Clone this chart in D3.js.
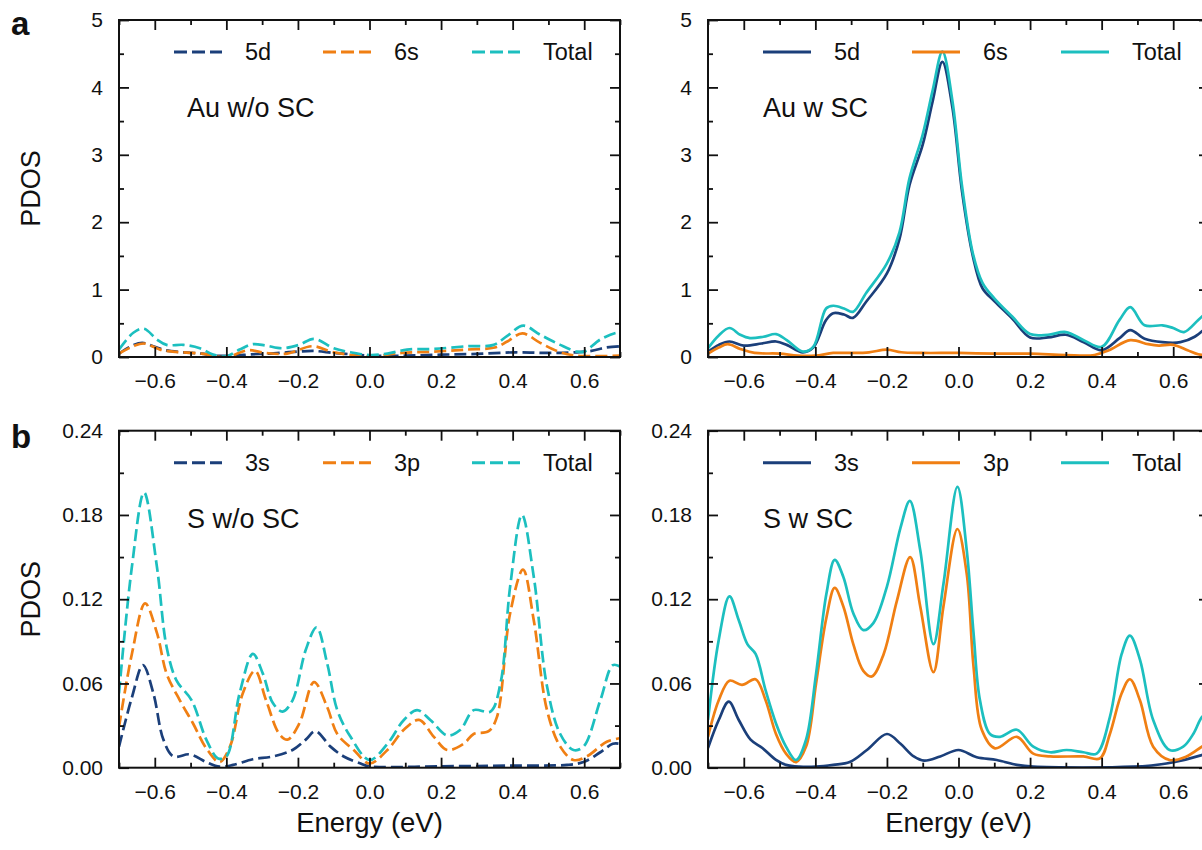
<!DOCTYPE html>
<html><head><meta charset="utf-8">
<script src="https://cdn.jsdelivr.net/npm/d3@7"></script>
<style>body{margin:0;background:#fff} text{font-family:"Liberation Sans",Arial,Helvetica,sans-serif;fill:#111}</style>
</head><body><svg id="c" width="1202" height="850"></svg>
<script>
// ---------- data ----------
const energyTicks = [-0.6,-0.4,-0.2,0,0.2,0.4,0.6];
const energyMinor = [-0.7,-0.5,-0.3,-0.1,0.1,0.3,0.5,0.7];
const auTicks = [0,1,2,3,4,5];
const auMinor = [0.5,1.5,2.5,3.5,4.5];
const sTicks = [0,0.06,0.12,0.18,0.24];
const sMinor = [0.03,0.09,0.15,0.21];
const auOrbitals = ["5d","6s","Total"];
const sOrbitals = ["3s","3p","Total"];
const panelTitles = ["Au w/o SC","Au w SC","S w/o SC","S w SC"];
const panelLetters = ["a","b"];

// Au w/o SC
const auWo5d = [[-0.7,0.05],[-0.67,0.15],[-0.635,0.21],[-0.6,0.15],[-0.57,0.1],[-0.52,0.07],[-0.47,0.05],[-0.43,0.02],[-0.38,0.02],[-0.33,0.04],[-0.28,0.05],[-0.2,0.08],[-0.155,0.09],[-0.1,0.06],[-0.05,0.04],[0,0.02],[0.1,0.02],[0.2,0.035],[0.3,0.045],[0.41,0.07],[0.5,0.06],[0.58,0.07],[0.62,0.09],[0.66,0.14],[0.7,0.16]];
const auWo6s = [[-0.7,0.05],[-0.66,0.16],[-0.63,0.2],[-0.585,0.11],[-0.55,0.08],[-0.47,0.05],[-0.4,0.0],[-0.34,0.1],[-0.29,0.06],[-0.23,0.05],[-0.16,0.16],[-0.1,0.07],[0,0.01],[0.09,0.06],[0.18,0.08],[0.27,0.11],[0.35,0.14],[0.385,0.23],[0.427,0.35],[0.477,0.21],[0.533,0.07],[0.58,0.02],[0.7,0.02]];
const auWoTotal = [[-0.7,0.11],[-0.66,0.36],[-0.63,0.42],[-0.594,0.26],[-0.567,0.18],[-0.52,0.18],[-0.474,0.13],[-0.437,0.035],[-0.4,0.01],[-0.363,0.11],[-0.326,0.19],[-0.29,0.17],[-0.243,0.13],[-0.197,0.18],[-0.155,0.27],[-0.1,0.13],[-0.053,0.07],[0,0.03],[0.05,0.05],[0.105,0.11],[0.18,0.12],[0.273,0.16],[0.347,0.18],[0.384,0.31],[0.43,0.465],[0.477,0.33],[0.533,0.18],[0.58,0.08],[0.6,0.08],[0.645,0.26],[0.69,0.36],[0.7,0.36]];
// Au w SC
const auW5d = [[-0.7,0.08],[-0.67,0.18],[-0.64,0.23],[-0.6,0.17],[-0.55,0.2],[-0.51,0.23],[-0.48,0.18],[-0.435,0.07],[-0.406,0.14],[-0.37,0.55],[-0.35,0.65],[-0.32,0.63],[-0.295,0.58],[-0.258,0.82],[-0.2,1.24],[-0.165,1.75],[-0.137,2.55],[-0.1,3.15],[-0.072,3.8],[-0.045,4.38],[-0.017,3.7],[0.01,2.45],[0.04,1.5],[0.067,1.02],[0.1,0.83],[0.15,0.57],[0.2,0.29],[0.25,0.29],[0.3,0.33],[0.35,0.22],[0.4,0.1],[0.45,0.28],[0.48,0.4],[0.52,0.27],[0.57,0.22],[0.62,0.22],[0.66,0.3],[0.7,0.48]];
const auW6s = [[-0.7,0.05],[-0.67,0.14],[-0.645,0.19],[-0.61,0.12],[-0.57,0.06],[-0.5,0.05],[-0.45,0.02],[-0.4,0.02],[-0.35,0.06],[-0.3,0.06],[-0.25,0.07],[-0.2,0.11],[-0.16,0.07],[-0.1,0.06],[0,0.06],[0.1,0.05],[0.2,0.05],[0.3,0.03],[0.38,0.03],[0.42,0.1],[0.48,0.25],[0.53,0.19],[0.56,0.17],[0.6,0.18],[0.64,0.1],[0.67,0.04],[0.7,0.02]];
const auWTotal = [[-0.7,0.13],[-0.67,0.32],[-0.64,0.43],[-0.61,0.33],[-0.583,0.28],[-0.545,0.3],[-0.51,0.34],[-0.48,0.25],[-0.435,0.08],[-0.406,0.15],[-0.37,0.72],[-0.35,0.76],[-0.32,0.72],[-0.295,0.67],[-0.258,0.95],[-0.2,1.39],[-0.165,1.85],[-0.137,2.65],[-0.1,3.3],[-0.072,3.96],[-0.045,4.53],[-0.017,3.8],[0.01,2.53],[0.04,1.54],[0.067,1.1],[0.1,0.87],[0.15,0.6],[0.2,0.34],[0.25,0.33],[0.3,0.37],[0.35,0.25],[0.4,0.15],[0.45,0.55],[0.48,0.74],[0.52,0.47],[0.57,0.47],[0.6,0.43],[0.63,0.37],[0.67,0.55],[0.7,0.7]];
// S w/o SC
const sWo3s = [[-0.7,0.015],[-0.664,0.05],[-0.633,0.073],[-0.604,0.053],[-0.576,0.02],[-0.548,0.008],[-0.502,0.0095],[-0.456,0.004],[-0.419,0.0007],[-0.381,0.002],[-0.326,0.006],[-0.27,0.008],[-0.215,0.0126],[-0.178,0.02],[-0.151,0.026],[-0.109,0.015],[-0.072,0.008],[-0.025,0.003],[0,0.001],[0.2,0.001],[0.4,0.0015],[0.552,0.002],[0.598,0.004],[0.645,0.011],[0.68,0.017],[0.7,0.017]];
const sWo3p = [[-0.7,0.029],[-0.664,0.081],[-0.627,0.117],[-0.594,0.096],[-0.567,0.067],[-0.53,0.048],[-0.493,0.0315],[-0.456,0.0138],[-0.419,0.004],[-0.39,0.015],[-0.354,0.053],[-0.32,0.069],[-0.289,0.048],[-0.252,0.024],[-0.229,0.02],[-0.196,0.0315],[-0.155,0.061],[-0.118,0.043],[-0.09,0.024],[-0.044,0.0126],[0,0.003],[0.05,0.0126],[0.096,0.027],[0.138,0.034],[0.18,0.022],[0.217,0.0126],[0.263,0.017],[0.291,0.024],[0.333,0.026],[0.356,0.036],[0.393,0.11],[0.429,0.141],[0.459,0.105],[0.496,0.041],[0.533,0.015],[0.57,0.0055],[0.607,0.008],[0.663,0.0185],[0.7,0.021]];
const sWoTotal = [[-0.7,0.053],[-0.664,0.143],[-0.63,0.196],[-0.594,0.143],[-0.567,0.086],[-0.539,0.062],[-0.497,0.048],[-0.456,0.02],[-0.423,0.0066],[-0.4,0.008],[-0.363,0.053],[-0.326,0.081],[-0.298,0.067],[-0.27,0.046],[-0.243,0.04],[-0.215,0.048],[-0.178,0.084],[-0.148,0.1],[-0.118,0.074],[-0.09,0.041],[-0.053,0.022],[0,0.0055],[0.05,0.017],[0.096,0.034],[0.133,0.041],[0.17,0.034],[0.217,0.023],[0.254,0.027],[0.291,0.041],[0.338,0.04],[0.366,0.06],[0.393,0.129],[0.426,0.18],[0.459,0.136],[0.496,0.058],[0.533,0.024],[0.57,0.0126],[0.598,0.015],[0.645,0.048],[0.68,0.073],[0.7,0.072]];
// S w SC
const sW3s = [[-0.7,0.014],[-0.67,0.034],[-0.642,0.047],[-0.614,0.034],[-0.581,0.02],[-0.548,0.014],[-0.51,0.0055],[-0.482,0.002],[-0.445,0.0007],[-0.398,0.0007],[-0.35,0.002],[-0.304,0.004],[-0.256,0.0126],[-0.2,0.024],[-0.162,0.017],[-0.125,0.008],[-0.096,0.005],[-0.051,0.008],[0,0.0126],[0.051,0.0074],[0.107,0.0055],[0.163,0.002],[0.209,0.0007],[0.488,0.0007],[0.581,0.003],[0.68,0.009],[0.7,0.011]];
const sW3p = [[-0.7,0.022],[-0.67,0.048],[-0.64,0.062],[-0.605,0.059],[-0.567,0.063],[-0.539,0.048],[-0.51,0.024],[-0.482,0.01],[-0.454,0.004],[-0.426,0.015],[-0.398,0.06],[-0.369,0.107],[-0.346,0.128],[-0.322,0.115],[-0.294,0.088],[-0.266,0.069],[-0.242,0.065],[-0.209,0.081],[-0.172,0.119],[-0.135,0.15],[-0.107,0.115],[-0.07,0.068],[-0.042,0.115],[-0.003,0.17],[0.023,0.138],[0.042,0.072],[0.065,0.027],[0.102,0.0138],[0.163,0.022],[0.209,0.01],[0.256,0.008],[0.349,0.008],[0.395,0.0066],[0.423,0.024],[0.456,0.053],[0.479,0.063],[0.507,0.048],[0.544,0.015],[0.59,0.0055],[0.637,0.008],[0.68,0.015],[0.7,0.018]];
const sWTotal = [[-0.7,0.034],[-0.67,0.091],[-0.64,0.122],[-0.614,0.105],[-0.59,0.088],[-0.567,0.081],[-0.539,0.055],[-0.51,0.0315],[-0.482,0.015],[-0.454,0.0055],[-0.426,0.02],[-0.398,0.067],[-0.369,0.124],[-0.346,0.148],[-0.322,0.136],[-0.294,0.11],[-0.266,0.098],[-0.238,0.103],[-0.2,0.129],[-0.162,0.171],[-0.136,0.19],[-0.107,0.155],[-0.07,0.088],[-0.042,0.131],[-0.003,0.2],[0.023,0.155],[0.042,0.096],[0.06,0.048],[0.088,0.024],[0.116,0.022],[0.163,0.027],[0.209,0.015],[0.256,0.011],[0.302,0.0126],[0.349,0.011],[0.386,0.01],[0.423,0.036],[0.456,0.081],[0.479,0.094],[0.507,0.077],[0.544,0.034],[0.59,0.0126],[0.628,0.015],[0.656,0.024],[0.68,0.036],[0.7,0.04]];

// ---------- layout / style ----------
const colors = ["#1b3f7a","#f07f13","#1cbfbf"];
const W = 501, H = 337;
const panels = [
  {x:119, y:20,    series:[auWo5d,auWo6s,auWoTotal], names:auOrbitals, ymax:5,    ticks:auTicks, minor:auMinor, fmt:d3.format("d"),   dashed:true,  title:panelTitles[0], tx:68, ylabel:true,  xlabel:false, letter:panelLetters[0]},
  {x:708, y:20,    series:[auW5d,auW6s,auWTotal],    names:auOrbitals, ymax:5,    ticks:auTicks, minor:auMinor, fmt:d3.format("d"),   dashed:false, title:panelTitles[1], tx:55, ylabel:false, xlabel:false},
  {x:119, y:430.7, series:[sWo3s,sWo3p,sWoTotal],    names:sOrbitals,  ymax:0.24, ticks:sTicks,  minor:sMinor,  fmt:d3.format(".2f"), dashed:true,  title:panelTitles[2], tx:68, ylabel:true,  xlabel:true, letter:panelLetters[1]},
  {x:708, y:430.7, series:[sW3s,sW3p,sWTotal],       names:sOrbitals,  ymax:0.24, ticks:sTicks,  minor:sMinor,  fmt:d3.format(".2f"), dashed:false, title:panelTitles[3], tx:55, ylabel:false, xlabel:true}
];

const svg = d3.select("#c");
const dash = "12,5";

panels.forEach((p,i)=>{
  const g = svg.append("g").attr("transform",`translate(${p.x},${p.y})`);
  const x = d3.scaleLinear().domain([-0.7,0.7]).range([0,W]);
  const y = d3.scaleLinear().domain([0,p.ymax]).range([H,0]);
  const clipId = "clip"+i;
  g.append("clipPath").attr("id",clipId).append("rect").attr("width",W).attr("height",H);

  const line = d3.line().x(d=>x(d[0])).y(d=>y(d[1])).curve(d3.curveCatmullRom.alpha(0.5));
  const lg = g.append("g").attr("clip-path",`url(#${clipId})`);
  p.series.forEach((s,k)=>{
    lg.append("path").datum(s).attr("d",line).attr("fill","none")
      .attr("stroke",colors[k]).attr("stroke-width",2.7)
      .attr("stroke-linejoin","round")
      .attr("stroke-dasharray",p.dashed?dash:null);
  });

  // axes (ticks inward)
  const styleAxis = sel => { sel.select(".domain").remove(); sel.selectAll(".tick line").attr("stroke","#111").attr("stroke-width",1.8); sel.selectAll("text").style("font-size","21px").attr("fill","#111"); };
  g.append("g").attr("transform",`translate(0,${H})`).call(d3.axisBottom(x).tickValues(energyTicks).tickSize(-10).tickPadding(16).tickFormat(d3.format(".1f"))).call(styleAxis);
  g.append("g").attr("transform",`translate(0,${H})`).call(d3.axisBottom(x).tickValues(energyMinor).tickSize(-5).tickFormat("")).call(styleAxis);
  g.append("g").call(d3.axisTop(x).tickValues(energyTicks).tickSize(-10).tickFormat("")).call(styleAxis);
  g.append("g").call(d3.axisTop(x).tickValues(energyMinor).tickSize(-5).tickFormat("")).call(styleAxis);
  g.append("g").call(d3.axisLeft(y).tickValues(p.ticks).tickSize(-10).tickPadding(16).tickFormat(p.fmt)).call(styleAxis);
  g.append("g").call(d3.axisLeft(y).tickValues(p.minor).tickSize(-5).tickFormat("")).call(styleAxis);
  g.append("g").attr("transform",`translate(${W},0)`).call(d3.axisRight(y).tickValues(p.ticks).tickSize(-10).tickFormat("")).call(styleAxis);
  g.append("g").attr("transform",`translate(${W},0)`).call(d3.axisRight(y).tickValues(p.minor).tickSize(-5).tickFormat("")).call(styleAxis);

  g.append("rect").attr("width",W).attr("height",H).attr("fill","none").attr("stroke","#111").attr("stroke-width",2);

  // legend
  p.names.forEach((n,k)=>{
    const lx = 55 + k*149;
    g.append("line").attr("x1",lx).attr("x2",lx+48).attr("y1",32).attr("y2",32)
      .attr("stroke",colors[k]).attr("stroke-width",3).attr("stroke-dasharray",p.dashed?"13,5":null);
    g.append("text").attr("x",lx+71).attr("y",32).attr("dy","0.36em").style("font-size","23.5px").text(n);
  });
  g.append("text").attr("x",p.tx).attr("y",97).style("font-size","27px").text(p.title);

  if(p.ylabel){
    g.append("text").attr("transform",`translate(${-p.x+40},${H/2}) rotate(-90)`).attr("text-anchor","middle").style("font-size","27px").text("PDOS");
  }
  if(p.xlabel){
    g.append("text").attr("x",W/2).attr("y",H+64).attr("text-anchor","middle").style("font-size","27.5px").text("Energy (eV)");
  }
  if(p.letter){
    g.append("text").attr("x",-p.x+11).attr("y",p.letter==="a"?15:17).style("font-size","33px").style("font-weight","bold").text(p.letter);
  }
});
</script></body></html>
